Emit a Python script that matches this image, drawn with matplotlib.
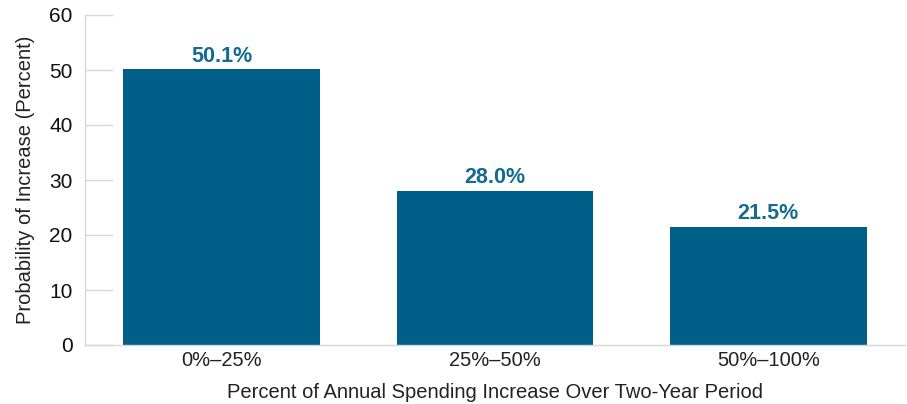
import matplotlib
matplotlib.use("Agg")
import matplotlib.pyplot as plt

categories = ["0%\u201325%", "25%\u201350%", "50%\u2013100%"]
values = [50.1, 28.0, 21.5]
value_labels = ["50.1%", "28.0%", "21.5%"]
yticks = [0, 10, 20, 30, 40, 50, 60]

plt.rcParams['font.family'] = ['Liberation Sans', 'DejaVu Sans']

fig = plt.figure(figsize=(9.07, 4.04), dpi=100)
ax = fig.add_axes([85/907, 59/404, 820/907, 330/404])

bar_color = "#005F89"
x = list(range(len(categories)))
ax.bar(x, values, width=0.72, color=bar_color, zorder=2)
for xi, v, lab in zip(x, values, value_labels):
    ax.text(xi, v + 0.5, lab, ha="center", va="bottom", fontsize=15.5,
            fontweight="bold", color="#156A93")

ax.set_xlim(-0.5, 2.5)
ax.set_ylim(0, 60)
ax.set_yticks(yticks)
ax.set_xticks(x)
ax.set_xticklabels(categories, fontsize=14.5, color="#222222")
ax.tick_params(axis="y", direction="in", length=20, width=1, color="#d8d8d8",
               labelsize=15, labelcolor="#111111", pad=9)
ax.tick_params(axis="x", length=0, pad=4)
for s in ["top", "right"]:
    ax.spines[s].set_visible(False)
for s in ["left", "bottom"]:
    ax.spines[s].set_color("#d8d8d8")
    ax.spines[s].set_linewidth(1)

ax.set_xlabel("Percent of Annual Spending Increase Over Two-Year Period",
              fontsize=14.5, color="#222222", labelpad=10)
ax.set_ylabel("Probability of Increase (Percent)", fontsize=14.5,
              color="#222222", labelpad=10)

fig.savefig("out.png", dpi=100)
